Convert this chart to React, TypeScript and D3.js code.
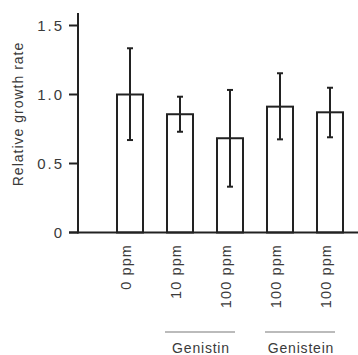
import React from "react";
import * as d3 from "d3";

const categories = ["0 ppm", "10 ppm", "100 ppm", "100 ppm", "100 ppm"];
const values = [1.0, 0.857, 0.683, 0.912, 0.871];
const errHigh = [1.335, 0.984, 1.033, 1.154, 1.049];
const errLow = [0.67, 0.73, 0.332, 0.675, 0.69];
const yTicks = [0, 0.5, 1.0, 1.5];
const yTickLabels = ["0", "0.5", "1.0", "1.5"];
const groups = [
  { label: "Genistin", from: 1, to: 2 },
  { label: "Genistein", from: 3, to: 4 },
];

export default function App() {
  const W = 358, H = 355;
  const axisX = 78;
  const y = d3.scaleLinear().domain([0, 1.5]).range([232.5, 25.5]);
  const x = d3.scaleBand<number>().domain(d3.range(categories.length)).range([105, 355]).paddingInner(0.48).paddingOuter(0.24);
  const bw = x.bandwidth();
  const cx = (i: number) => (x(i) as number) + bw / 2;
  const ink = "#222";
  const txt = "#3a3a3a";
  const font = "'Liberation Sans', Arial, sans-serif";
  return (
    <svg width={W} height={H} style={{ position: "absolute", left: 0, top: 0, background: "#fff" }} fontFamily={font}>
      {/* bars */}
      {values.map((v, i) => (
        <rect key={"b" + i} x={x(i)} y={y(v)} width={bw} height={y(0) - y(v)} fill="#fff" stroke={ink} strokeWidth={2} />
      ))}
      {/* error bars */}
      {values.map((v, i) => (
        <g key={"e" + i} stroke={ink} strokeWidth={2}>
          <line x1={cx(i)} x2={cx(i)} y1={y(errHigh[i])} y2={y(errLow[i])} />
          <line x1={cx(i) - 3} x2={cx(i) + 3} y1={y(errHigh[i])} y2={y(errHigh[i])} />
          <line x1={cx(i) - 3} x2={cx(i) + 3} y1={y(errLow[i])} y2={y(errLow[i])} />
        </g>
      ))}
      {/* axes */}
      <line x1={axisX} x2={axisX} y1={13} y2={y(0) + 1} stroke={ink} strokeWidth={2} />
      <line x1={69} x2={W} y1={y(0)} y2={y(0)} stroke={ink} strokeWidth={2} />
      {yTicks.map((t, i) => (
        <g key={"t" + i}>
          <line x1={69} x2={axisX} y1={y(t)} y2={y(t)} stroke={ink} strokeWidth={2} />
          <text x={64} y={y(t)} dy="0.36em" textAnchor="end" fontSize={15} letterSpacing={2} fill={txt}>{yTickLabels[i]}</text>
        </g>
      ))}
      <text transform={`translate(18,${114}) rotate(-90)`} textAnchor="middle" fontSize={14} letterSpacing={1} fill={txt} dy="0.35em">Relative growth rate</text>
      {categories.map((c, i) => (
        <text key={"c" + i} transform={`translate(${cx(i) - 4},${244}) rotate(-90)`} textAnchor="end" dy="0.35em" fontSize={14.5} letterSpacing={1.1} fill={txt}>{c}</text>
      ))}
      {groups.map((g, i) => {
        const x1 = (x(g.from) as number) - 2;
        const x2 = (x(g.to) as number) + bw - 8;
        return (
          <g key={"g" + i}>
            <line x1={x1} x2={x2} y1={332} y2={332} stroke="#bbb" strokeWidth={2} />
            <text x={(x1 + x2) / 2 + 1} y={353} textAnchor="middle" fontSize={14} letterSpacing={0.8} fill={txt}>{g.label}</text>
          </g>
        );
      })}
    </svg>
  );
}
